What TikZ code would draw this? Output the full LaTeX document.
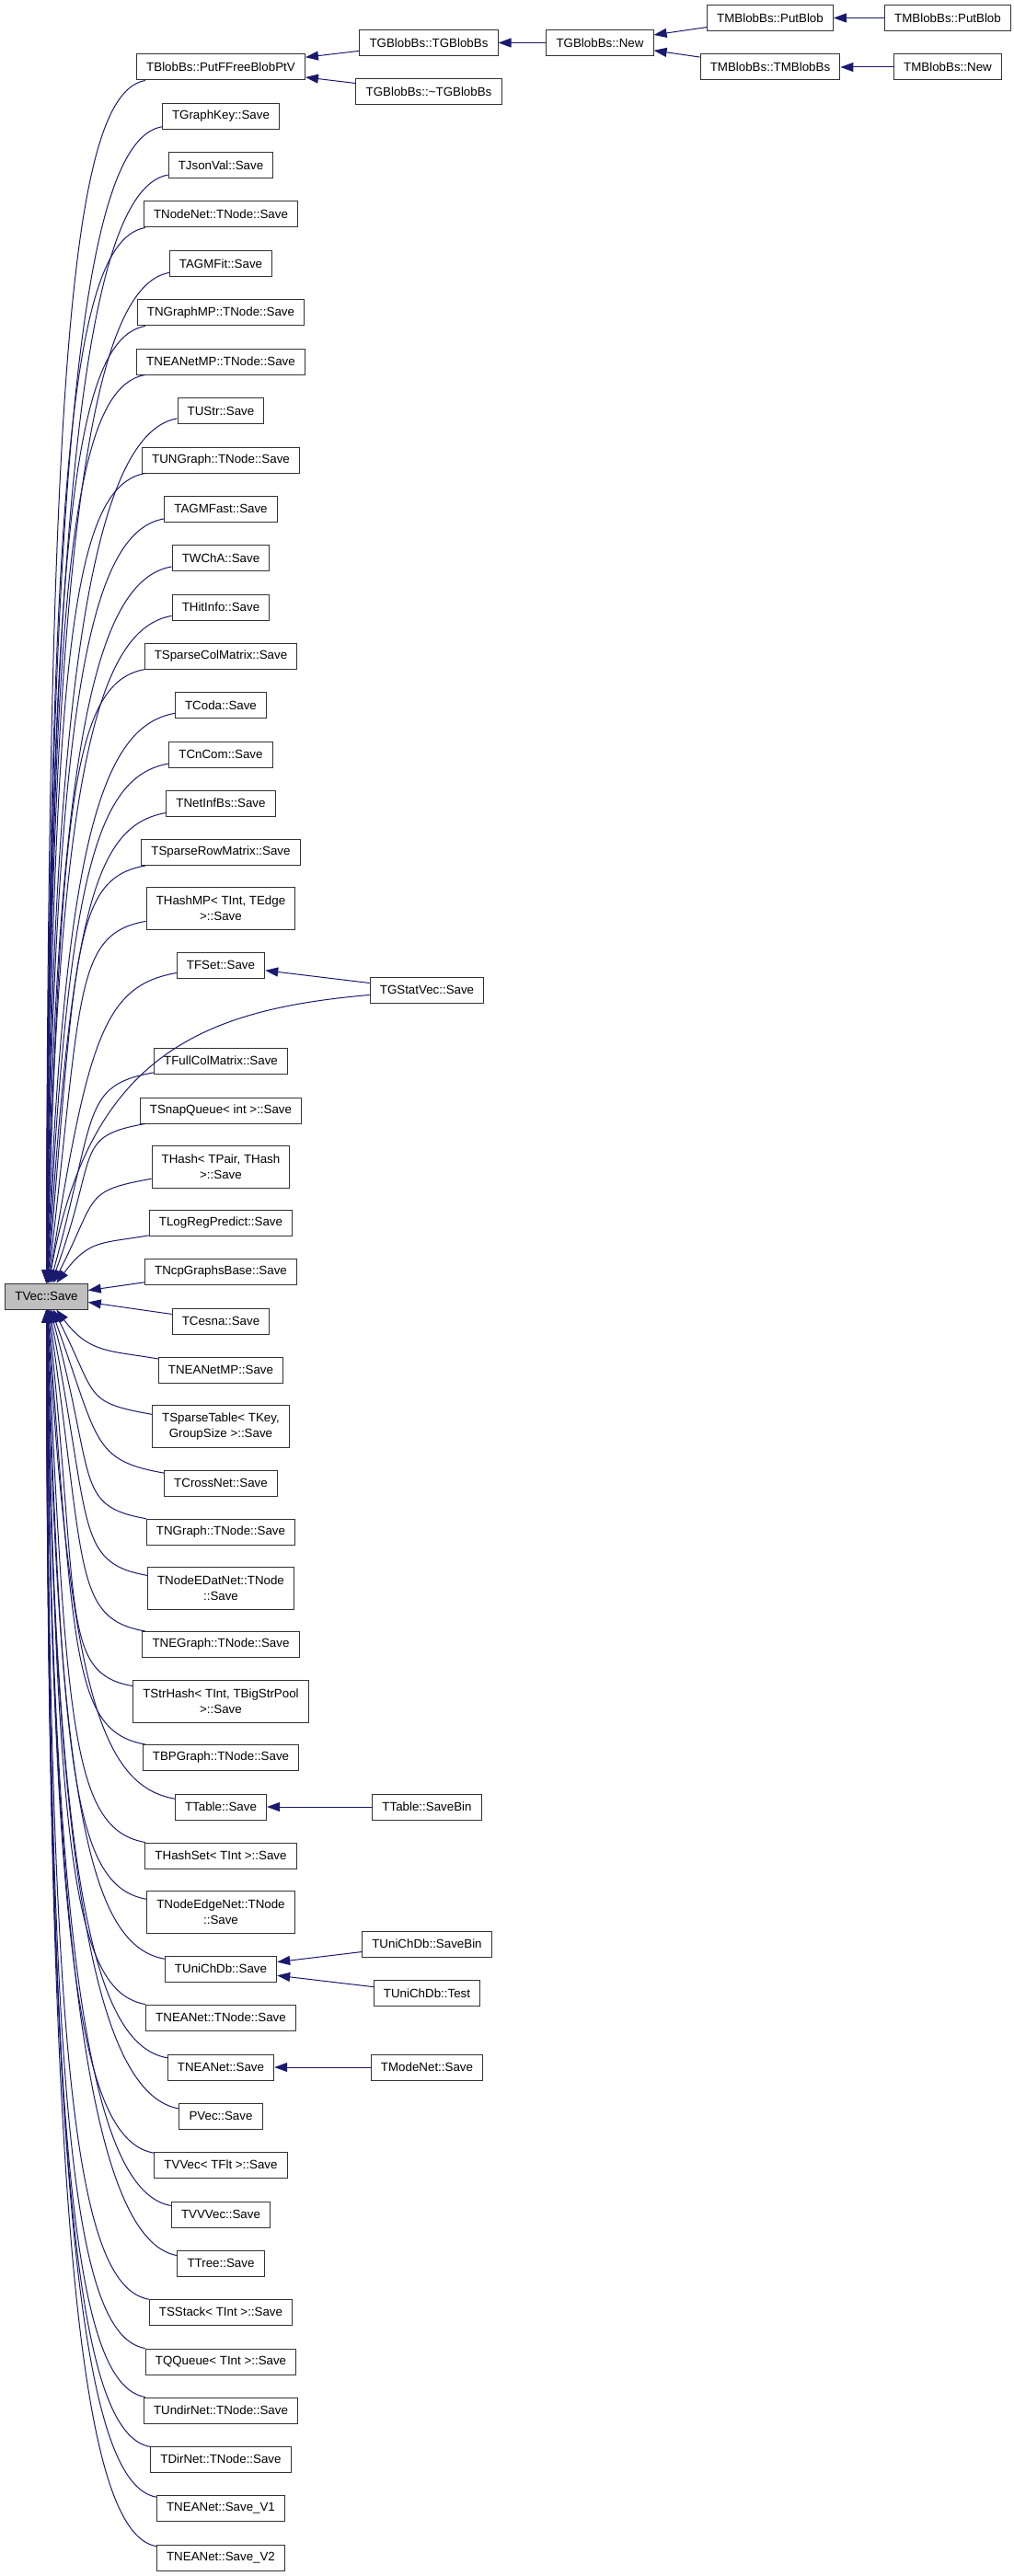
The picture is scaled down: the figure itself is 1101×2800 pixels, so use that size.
\documentclass[tikz,border=0pt]{standalone}
\usepackage{fontspec}
\setmainfont{Liberation Sans}
\usetikzlibrary{arrows.meta, positioning}
\definecolor{EdgeBlue}{RGB}{25,25,112}
\definecolor{FocusGray}{RGB}{191,191,191}

\tikzset{
  fn/.style={draw=black!80, line width=0.75pt, fill=white,
    font=\fontsize{10}{12.5}\selectfont, inner xsep=8pt, inner ysep=1pt,
    minimum height=21pt},
  fntwo/.style={fn, align=center, minimum height=34.5pt},
  call/.style={draw=EdgeBlue, line width=0.75pt,
    -{Triangle[length=10.5pt, width=7.5pt]}}
}

\begin{document}
\begin{tikzpicture}[x=0.75pt, y=-0.75pt]
  \useasboundingbox (0,0) rectangle (1101,2800);

  % the function itself
  \node[fn, fill=FocusGray] (tvec) at (50.5,1409) {TVec::Save};

  % direct callers, one column
  \foreach \n/\y/\s/\t in {
    putffree/73/fn/TBlobBs::PutFFreeBlobPtV, graphkey/126.5/fn/TGraphKey::Save,
    jsonval/180/fn/TJsonVal::Save, nodenet/233/fn/TNodeNet::TNode::Save,
    agmfit/286.5/fn/TAGMFit::Save, ngraphmp/340/fn/TNGraphMP::TNode::Save,
    neanetmpnode/393/fn/TNEANetMP::TNode::Save, ustr/446.5/fn/TUStr::Save,
    ungraph/500/fn/TUNGraph::TNode::Save, agmfast/553/fn/TAGMFast::Save,
    wcha/606.5/fn/TWChA::Save, hitinfo/660/fn/THitInfo::Save,
    sparsecol/713/fn/TSparseColMatrix::Save, coda/766.5/fn/TCoda::Save,
    cncom/820/fn/TCnCom::Save, netinfbs/873/fn/TNetInfBs::Save,
    sparserow/926.5/fn/TSparseRowMatrix::Save,
    hashmp/987/fntwo/{THashMP< TInt, TEdge\\>::Save},
    fset/1049/fn/TFSet::Save, fullcol/1153/fn/TFullColMatrix::Save,
    snapqueue/1207/fn/TSnapQueue< int >::Save,
    hashpair/1268/fntwo/{THash< TPair, THash\\>::Save},
    logreg/1329/fn/TLogRegPredict::Save, ncp/1382/fn/TNcpGraphsBase::Save,
    cesna/1436/fn/TCesna::Save, neanetmp/1489/fn/TNEANetMP::Save,
    sparsetable/1550.5/fntwo/{TSparseTable< TKey,\\GroupSize >::Save},
    crossnet/1612/fn/TCrossNet::Save, ngraph/1665/fn/TNGraph::TNode::Save,
    nodeedat/1726.5/fntwo/{TNodeEDatNet::TNode\\::Save},
    negraph/1787.5/fn/TNEGraph::TNode::Save,
    strhash/1849.5/fntwo/{TStrHash< TInt, TBigStrPool\\>::Save},
    bpgraph/1910.5/fn/TBPGraph::TNode::Save, table/1964/fn/TTable::Save,
    hashset/2017/fn/THashSet< TInt >::Save,
    nodeedge/2078.5/fntwo/{TNodeEdgeNet::TNode\\::Save},
    unichdb/2140/fn/TUniChDb::Save, neanetnode/2193/fn/TNEANet::TNode::Save,
    neanet/2247/fn/TNEANet::Save, pvec/2300/fn/PVec::Save,
    vvec/2353/fn/TVVec< TFlt >::Save, vvvec/2407/fn/TVVVec::Save,
    tree/2460/fn/TTree::Save, sstack/2513/fn/TSStack< TInt >::Save,
    qqueue/2567/fn/TQQueue< TInt >::Save,
    undirnet/2620/fn/TUndirNet::TNode::Save,
    dirnet/2673/fn/TDirNet::TNode::Save,
    savevone/2726.5/fn/TNEANet::Save\_V1,
    savevtwo/2780/fn/TNEANet::Save\_V2}{
    \node[\s] (\n) at (240,\y) {\t};
    \pgfmathsetmacro\dy{1409-\y}
    \pgfmathsetmacro\a{55*exp(-abs(\dy)/200)}
    \pgfmathsetmacro\ia{90-\a}
    \pgfmathsetmacro\ib{270+\a}
    \pgfmathsetmacro\od{0.75*min(80,20+0.4*abs(\dy))}
    \pgfmathsetmacro\id{0.5625*abs(\dy)}
    \ifdim\dy pt>40pt
      \draw[call] (\n) to[out=190, in=\ia, out distance=\od pt, in distance=\id pt] (tvec);
    \else\ifdim\dy pt<-40pt
      \draw[call] (\n) to[out=170, in=\ib, out distance=\od pt, in distance=\id pt] (tvec);
    \else
      \draw[call] (\n) -- (tvec);
    \fi\fi
  }

  % second level
  \node[fn] (gstatvec) at (464,1076) {TGStatVec::Save};
  \node[fn] (tablebin) at (464,1964) {TTable::SaveBin};
  \node[fn] (unisavebin) at (464,2113) {TUniChDb::SaveBin};
  \node[fn] (unitest) at (464,2166.5) {TUniChDb::Test};
  \node[fn] (modenet) at (464,2247) {TModeNet::Save};
  \node[fn] (tgblobbs) at (466,46.5) {TGBlobBs::TGBlobBs};
  \node[fn] (tgdtor) at (466,100) {TGBlobBs::\textasciitilde TGBlobBs};
  \node[fn] (gnew) at (652,46.5) {TGBlobBs::New};
  \node[fn] (mputblob) at (837,19.5) {TMBlobBs::PutBlob};
  \node[fn] (mtmblobbs) at (837,73) {TMBlobBs::TMBlobBs};
  \node[fn] (mputblobb) at (1030,19.5) {TMBlobBs::PutBlob};
  \node[fn] (mnew) at (1030,73) {TMBlobBs::New};

  \draw[call] (gstatvec) to[out=185, in=80, out distance=135pt, in distance=190pt] (tvec);
  \foreach \a/\b in {gstatvec/fset, tablebin/table, unisavebin/unichdb,
    unitest/unichdb, modenet/neanet, tgblobbs/putffree, tgdtor/putffree,
    gnew/tgblobbs, mputblob/gnew, mtmblobbs/gnew, mputblobb/mputblob,
    mnew/mtmblobbs}
    \draw[call] (\a) -- (\b);
\end{tikzpicture}
\end{document}
